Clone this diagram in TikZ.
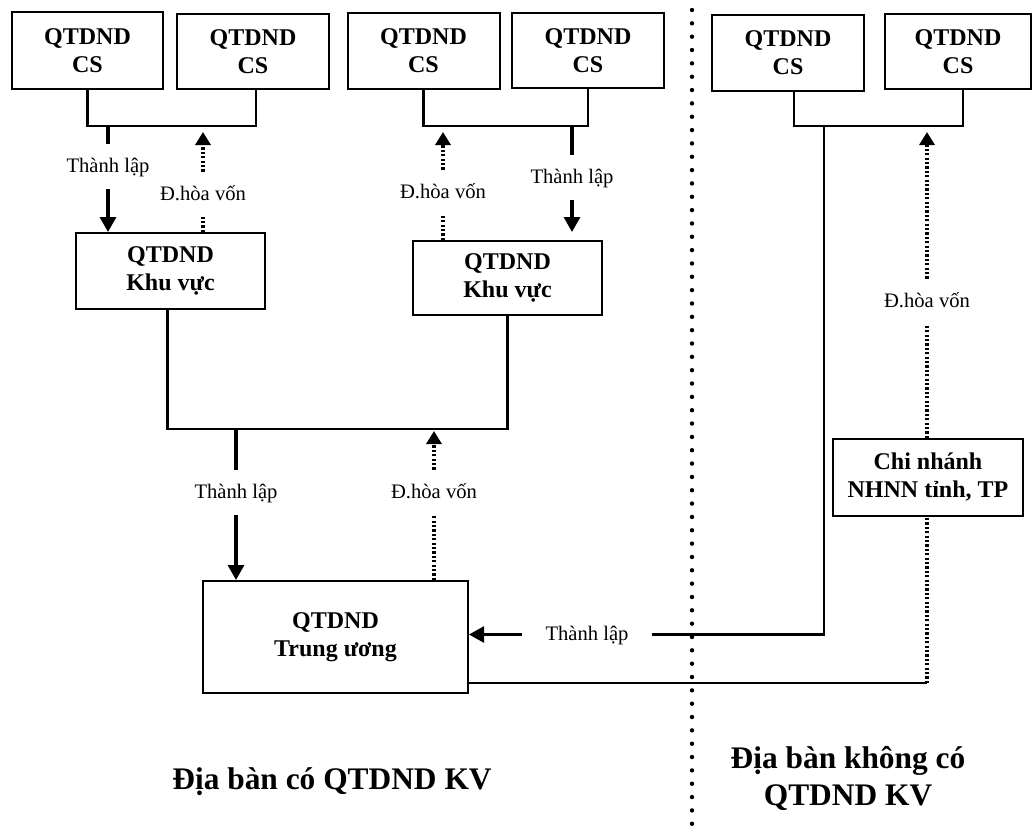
\documentclass[tikz,border=0pt]{standalone}
\usepackage{fontspec}
\setmainfont{Liberation Serif}
\usepackage{xcolor}
\usetikzlibrary{arrows.meta,positioning,calc}
\definecolor{qInk}{HTML}{000000}
\tikzset{
  % QTDND box
  qbox/.style={rectangle,draw=qInk,line width=1pt,align=center,
    inner sep=0pt,minimum width=76pt,minimum height=38pt,
    font=\fontsize{12}{14}\selectfont\bfseries,text=qInk},
  % Label sitting in a gap of a connector
  lbl/.style={font=\fontsize{10.3}{12}\selectfont,text=qInk,anchor=base,
    text height=8pt,text depth=2.5pt,inner xsep=11.5pt,inner ysep=6pt},
  % Area caption
  area/.style={font=\fontsize{15.7}{18.5}\selectfont\bfseries,
    align=center,text=qInk},
  % Lines and arrows
  ln/.style={line width=1.1pt,color=qInk},
  lnb/.style={line width=1.6pt,color=qInk},
  arr/.style={lnb,-{Triangle[length=7.5pt,width=8pt]}},
  lnd/.style={line width=1.6pt,dash pattern=on 1.1pt off 1.1pt,color=qInk},
  arrd/.style={lnd,-{Triangle[length=6.5pt,width=7.5pt]}},
  divline/.style={line width=2.2pt,dash pattern=on 0pt off 6.67pt,
    line cap=round,color=qInk},
}
\begin{document}
\begin{tikzpicture}[x=0.5pt,y=-0.5pt]
  \useasboundingbox (0,0) rectangle (1032,825);

  % top row
  \node[qbox,minimum width=75.5pt,minimum height=38.5pt] (cs1) at (87.5,50.5) {QTDND\\CS};
  \node[qbox,minimum height=37.5pt] (cs2) at (253,51.5) {QTDND\\CS};
  \node[qbox] (cs3) at (423.5,51) {QTDND\\CS};
  \node[qbox,minimum height=37.5pt] (cs4) at (588,50.5) {QTDND\\CS};
  \node[qbox] (cs5) at (788,53) {QTDND\\CS};
  \node[qbox,minimum width=73pt,minimum height=37.5pt] (cs6) at (958,51.5) {QTDND\\CS};

  % regional and central funds
  \node[qbox,minimum width=94.5pt] (kv1) at (170.5,271) {QTDND\\Khu vực};
  \node[qbox,minimum width=94.5pt,minimum height=37pt] (kv2) at (507.5,278) {QTDND\\Khu vực};
  \node[qbox,minimum width=132.5pt,minimum height=56pt] (tw) at (335.5,637) {QTDND\\Trung ương};
  \node[qbox,minimum width=95pt,minimum height=38.5pt] (cn) at (928,477.5) {Chi nhánh\\NHNN tỉnh, TP};

  % junctions
  \coordinate (jA) at (108,126);
  \coordinate (jB) at (572,126);
  \coordinate (jC) at (824,126);
  \coordinate (jD) at (236,429);
  \coordinate (jF) at (927,683);

  % labels
  \node[lbl] (tlA) at (108,172) {Thành lập};
  \node[lbl] (dhA) at (203,200) {Đ.hòa vốn};
  \node[lbl] (dhB) at (443,198) {Đ.hòa vốn};
  \node[lbl] (tlB) at (572,183) {Thành lập};
  \node[lbl] (tlC) at (236,498) {Thành lập};
  \node[lbl] (dhC) at (434,498) {Đ.hòa vốn};
  \node[lbl] (tlD) at (587,640) {Thành lập};
  \node[lbl] (dhD) at (927,307) {Đ.hòa vốn};

  % brackets
  \draw[ln] (cs1.south) |- (jA) -| ([xshift=1.5pt]cs2.south);
  \draw[ln] (cs3.south) |- (jB) -| (cs4.south);
  \draw[ln] ([xshift=3pt]cs5.south) |- (jC) -| ([xshift=2.5pt]cs6.south);
  \draw[ln] ([xshift=-1.5pt]kv1.south) |- (jD) -| (kv2.south);

  % left area
  \draw[lnb] (jA) -- (tlA.north);
  \draw[arr] (tlA.south) -- (kv1.north -| jA);
  \draw[arrd,shorten >=3pt] (dhA.north) -- (jA -| dhA);
  \draw[lnd] (kv1.north -| dhA) -- (dhA.south);
  \draw[arrd,shorten >=3pt] (dhB.north) -- (jB -| dhB);
  \draw[lnd] (kv2.north -| dhB) -- (dhB.south);
  \draw[lnb] (jB) -- (tlB.north);
  \draw[arr,shorten >=4pt] (tlB.south) -- (kv2.north -| jB);
  \draw[lnb] (jD) -- (tlC.north);
  \draw[arr] (tlC.south) -- (tw.north -| jD);
  \draw[arrd,shorten >=1pt] (dhC.north) -- (jD -| dhC);
  \draw[lnd] (tw.north -| dhC) -- (dhC.south);

  % right area
  \draw[ln] (jC) |- (tlD.east);
  \draw[arr,line width=1.3pt] (tlD.west) -- (tlD.west -| tw.east);
  \draw[ln] (tw.east |- jF) -- (jF);
  \draw[lnd] (jF) -- (jF |- cn.south);
  \draw[lnd] (cn.north -| dhD) -- (dhD.south);
  \draw[arrd,shorten >=3pt] (dhD.north) -- (jC -| dhD);

  % divider
  \draw[divline] (692,10) -- (692,830);

  % area captions
  \node[area,anchor=base] (areaA) at (332,789) {Địa bàn có QTDND KV};
  \node[area] (areaB) at (848,778) {Địa bàn không có\\QTDND KV};
\end{tikzpicture}
\end{document}
